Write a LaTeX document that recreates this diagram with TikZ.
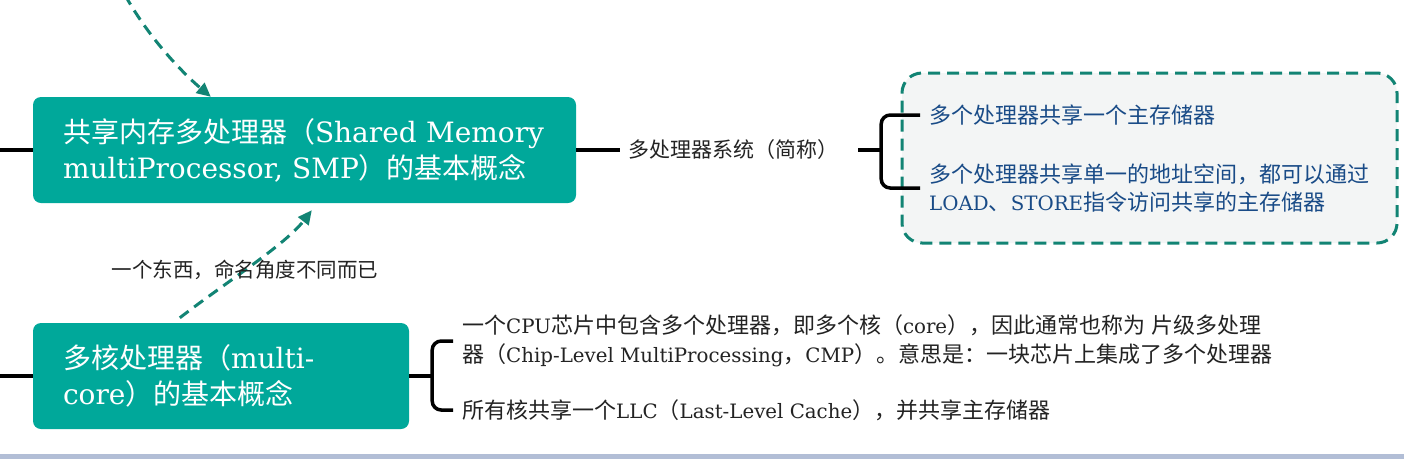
\documentclass[tikz,border=0pt]{standalone}
\usepackage{fontspec}
\setmainfont{DejaVu Serif}
\newfontfamily\latsm{DejaVu Serif}[Scale=0.9]
\newfontfamily\cjk{Noto Sans CJK SC}
\newcommand\C[1]{{\cjk #1}}
\usetikzlibrary{arrows.meta}
\definecolor{boxteal}{RGB}{0,168,154}
\definecolor{arrteal}{RGB}{18,132,116}
\definecolor{grpfill}{RGB}{243,245,245}
\definecolor{bluetxt}{RGB}{25,75,135}
\definecolor{barcol}{RGB}{178,190,214}
\definecolor{labtxt}{RGB}{35,35,35}
\begin{document}
\begin{tikzpicture}[x=1pt,y=-1pt,
  topic/.style={fill=boxteal,rounded corners=8pt,text=white,align=left,inner xsep=30pt,inner ysep=0pt,minimum height=106pt,font=\fontsize{28}{36}\selectfont},
  link/.style={line width=3.5pt,black},
  brace/.style={line width=3.5pt,black,rounded corners=9pt},
  rel/.style={arrteal,line width=3pt,dash pattern=on 11pt off 7pt,-{Triangle[length=14pt,width=13pt]}},
  leaf/.style={anchor=west,align=left,inner xsep=9pt,inner ysep=0pt,text=labtxt,font=\latsm\fontsize{22}{29}\selectfont},
  grpbox/.style={draw=arrteal,fill=grpfill,line width=3pt,dash pattern=on 12pt off 7pt,rounded corners=20pt,inner sep=0pt},
  tag/.style={text=labtxt,inner sep=0pt}
]
\useasboundingbox (0,0) rectangle (1404,459);
\fill[white] (0,0) rectangle (1404,459);
\fill[barcol] (0,454) rectangle (1404,459);

% main topics
\node[topic,text width=483pt] (smp) at (304.5,150) {\C{共享内存多处理器（}Shared Memory\\multiProcessor, SMP\C{）的基本概念}};
\node[topic,text width=316pt] (mc) at (221,376) {\C{多核处理器（}multi-\\core\C{）的基本概念}};

\coordinate (l1) at (0,150);
\coordinate (l2) at (0,376);
\draw[link] (l1) -- (smp.west);
\draw[link] (l2) -- (mc.west);

% SMP branch
\node[tag,font=\cjk\fontsize{21}{25}\selectfont,inner xsep=8pt,inner ysep=4pt] (alias) at (733,150) {多处理器系统（简称）};
\draw[link] (smp.east) -- (alias.west);

\node[grpbox,minimum width=495pt,minimum height=170pt] (grp) at (1149.5,158) {};
\node[leaf,text=bluetxt,font=\latsm\fontsize{22}{28}\selectfont] (p1) at (920,115) {\C{多个处理器共享一个主存储器}};
\node[leaf,text=bluetxt,font=\latsm\fontsize{22}{28}\selectfont] (p2) at (920,188) {\C{多个处理器共享单一的地址空间，都可以通过}\\LOAD\C{、}STORE\C{指令访问共享的主存储器}};

\draw[link] ([xshift=12pt]alias.east) -- ([xshift=35pt]alias.east);
\draw[brace] (p1.west) -| ([xshift=35pt]alias.east) |- (p2.west);

% multi-core branch
\node[leaf] (c1) at (453,341) {\C{一个}CPU\C{芯片中包含多个处理器，即多个核（}core\C{），因此通常也称为} \C{片级多处理}\\\C{器（}Chip-Level MultiProcessing\C{，}CMP\C{）。意思是：一块芯片上集成了多个处理器}};
\node[leaf] (c2) at (453,410) {\C{所有核共享一个}LLC\C{（}Last-Level Cache\C{），并共享主存储器}};
\draw[link] (mc.east) -- ([xshift=23pt]mc.east);
\draw[brace] (c1.west) -| ([xshift=23pt]mc.east) |- (c2.west);

% relation arrows
\coordinate (a0) at (125,-5);
\draw[rel] (a0) .. controls (150,40) and (185,75) .. ([xshift=178pt]smp.north west);
\draw[rel] ([xshift=147pt,yshift=5pt]mc.north west) .. controls (225,283) and (285,245) .. ([xshift=279pt,yshift=-7pt]smp.south west);
\node[tag,font=\cjk\fontsize{20.5}{24}\selectfont] (same) at (245,270) {一个东西，命名角度不同而已};
\end{tikzpicture}
\end{document}
